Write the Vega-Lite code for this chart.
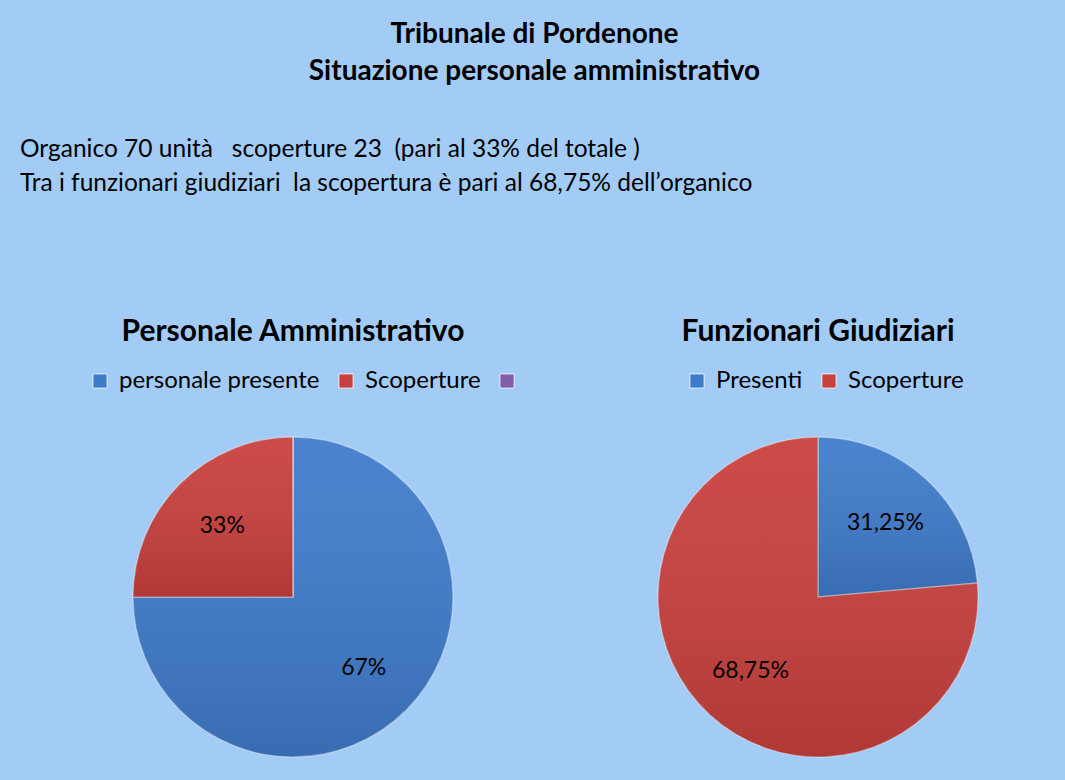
{
  "$schema": "https://vega.github.io/schema/vega-lite/v6.json",
  "background": "#a2ccf5",
  "padding": {"left": 20, "top": 20, "right": 85, "bottom": 20},
  "config": {
    "view": {"stroke": null},
    "font": "Lato",
    "title": {"color": "#000000", "font": "Lato"},
    "legend": {"labelFont": "Lato", "labelFontSize": 24, "labelColor": "#000000", "labelLimit": 0, "symbolType": "square", "symbolSize": 200, "symbolStrokeWidth": 0.8, "direction": "horizontal", "columnPadding": 14, "labelOffset": 7}
  },
  "title": {
    "text": ["Tribunale di Pordenone", "Situazione personale amministrativo"],
    "fontSize": 28,
    "fontWeight": "bold",
    "lineHeight": 37,
    "anchor": "middle",
    "dx": 34,
    "offset": 51
  },
  "datasets": {
    "personale": [
      {"categoria": "personale presente", "quota": 75, "etichetta": "67%", "ordine": 1},
      {"categoria": "Scoperture", "quota": 25, "etichetta": "33%", "ordine": 2},
      {"categoria": "", "quota": 0, "etichetta": "", "ordine": 3}
    ],
    "funzionari": [
      {"categoria": "Presenti", "quota": 23.6, "etichetta": "31,25%", "ordine": 1},
      {"categoria": "Scoperture", "quota": 76.4, "etichetta": "68,75%", "ordine": 2}
    ]
  },
  "vconcat": [
    {
      "title": {
        "text": ["Organico 70 unità \u00a0 scoperture 23 \u00a0(pari al 33% del totale )", "Tra i funzionari giudiziari \u00a0la scopertura è pari al 68,75% dell’organico"],
        "anchor": "start",
        "dx": -68,
        "fontSize": 24.5,
        "fontWeight": "normal",
        "lineHeight": 34,
        "offset": 121
      },
      "spacing": 129,
      "resolve": {"scale": {"color": "independent"}, "legend": {"color": "independent"}},
      "hconcat": [
        {
          "title": {"text": "Personale Amministrativo", "fontSize": 30, "fontWeight": "bold", "anchor": "middle", "offset": 22},
          "width": 320,
          "height": 320,
          "data": {"name": "personale"},
          "encoding": {
            "theta": {"field": "quota", "type": "quantitative", "stack": true},
            "order": {"field": "ordine", "type": "quantitative"}
          },
          "layer": [
            {
              "mark": {"type": "arc", "stroke": "#ffffff", "strokeOpacity": 0.35, "strokeWidth": 1.5},
              "encoding": {
                "color": {
                  "field": "categoria",
                  "type": "nominal",
                  "sort": null,
                  "scale": {"domain": ["personale presente", "Scoperture", ""], "range": ["#3f7bcb", "#c8403d", "#7f5fa8"]},
                  "legend": {"title": null, "orient": "none", "legendX": -45, "legendY": -68}
                }
              }
            },
            {
              "mark": {
                "type": "arc",
                "stroke": null,
                "fill": {"gradient": "linear", "x1": 0, "y1": 0, "x2": 0, "y2": 1, "stops": [{"offset": 0, "color": "rgba(255,255,255,0.06)"}, {"offset": 1, "color": "rgba(0,0,0,0.12)"}]}
              },
              "encoding": {"detail": {"field": "categoria"}}
            },
            {
              "mark": {"type": "text", "radius": 100, "fontSize": 23, "fill": "#000000"},
              "encoding": {"text": {"field": "etichetta"}, "detail": {"field": "categoria"}}
            }
          ]
        },
        {
          "title": {"text": "Funzionari Giudiziari", "fontSize": 30, "fontWeight": "bold", "anchor": "middle", "offset": 22},
          "width": 320,
          "height": 320,
          "data": {"name": "funzionari"},
          "encoding": {
            "theta": {"field": "quota", "type": "quantitative", "stack": true},
            "order": {"field": "ordine", "type": "quantitative"}
          },
          "layer": [
            {
              "mark": {"type": "arc", "stroke": "#ffffff", "strokeOpacity": 0.35, "strokeWidth": 1.5},
              "encoding": {
                "color": {
                  "field": "categoria",
                  "type": "nominal",
                  "sort": null,
                  "scale": {"domain": ["Presenti", "Scoperture"], "range": ["#3f7bcb", "#c8403d"]},
                  "legend": {"title": null, "orient": "none", "legendX": 27, "legendY": -68}
                }
              }
            },
            {
              "mark": {
                "type": "arc",
                "stroke": null,
                "fill": {"gradient": "linear", "x1": 0, "y1": 0, "x2": 0, "y2": 1, "stops": [{"offset": 0, "color": "rgba(255,255,255,0.06)"}, {"offset": 1, "color": "rgba(0,0,0,0.12)"}]}
              },
              "encoding": {"detail": {"field": "categoria"}}
            },
            {
              "mark": {"type": "text", "radius": 100, "fontSize": 23, "fill": "#000000"},
              "encoding": {"text": {"field": "etichetta"}, "detail": {"field": "categoria"}}
            }
          ]
        }
      ]
    }
  ]
}
